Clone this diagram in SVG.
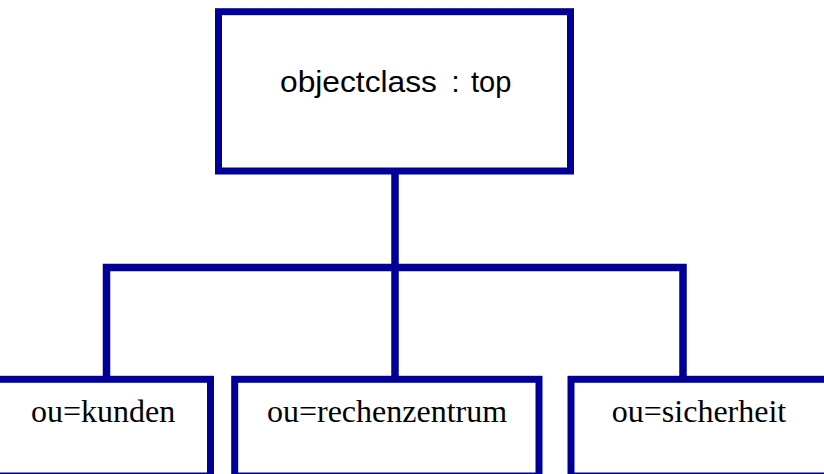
<svg xmlns="http://www.w3.org/2000/svg" width="824" height="474" viewBox="0 0 824 474">
<style>
.box{fill:#ffffff;stroke:#000099;stroke-width:7}
.conn{fill:none;stroke:#000099;stroke-width:7.5;stroke-linejoin:miter}
.sans{font-family:"Liberation Sans",Arial,sans-serif;font-size:29px;fill:#000000}
.serif{font-family:"Liberation Serif","Times New Roman",serif;font-size:32px;fill:#000000;text-anchor:middle}
</style>
<rect width="824" height="474" fill="#ffffff"/>
<g id="connectors">
<path class="conn" d="M395,174 V379"/>
<path class="conn" d="M106.5,379 V267.5 H683 V379"/>
</g>
<g id="top">
<rect class="box" x="218.5" y="11.7" width="352" height="159.3"/>
<text class="sans" y="92"><tspan x="280" textLength="157" lengthAdjust="spacingAndGlyphs">objectclass</tspan><tspan x="451.5">:</tspan><tspan x="471">top</tspan></text>
</g>
<g id="kunden">
<rect class="box" x="-10" y="379.3" width="220.5" height="96.7"/>
<text class="serif" x="103" y="421.5">ou=kunden</text>
</g>
<g id="rechenzentrum">
<rect class="box" x="234.7" y="379.3" width="304.3" height="96.7"/>
<text class="serif" x="387" y="421.5">ou=rechenzentrum</text>
</g>
<g id="sicherheit">
<rect class="box" x="571" y="379.3" width="270" height="96.7"/>
<text class="serif" x="699" y="421.5">ou=sicherheit</text>
</g>
</svg>
